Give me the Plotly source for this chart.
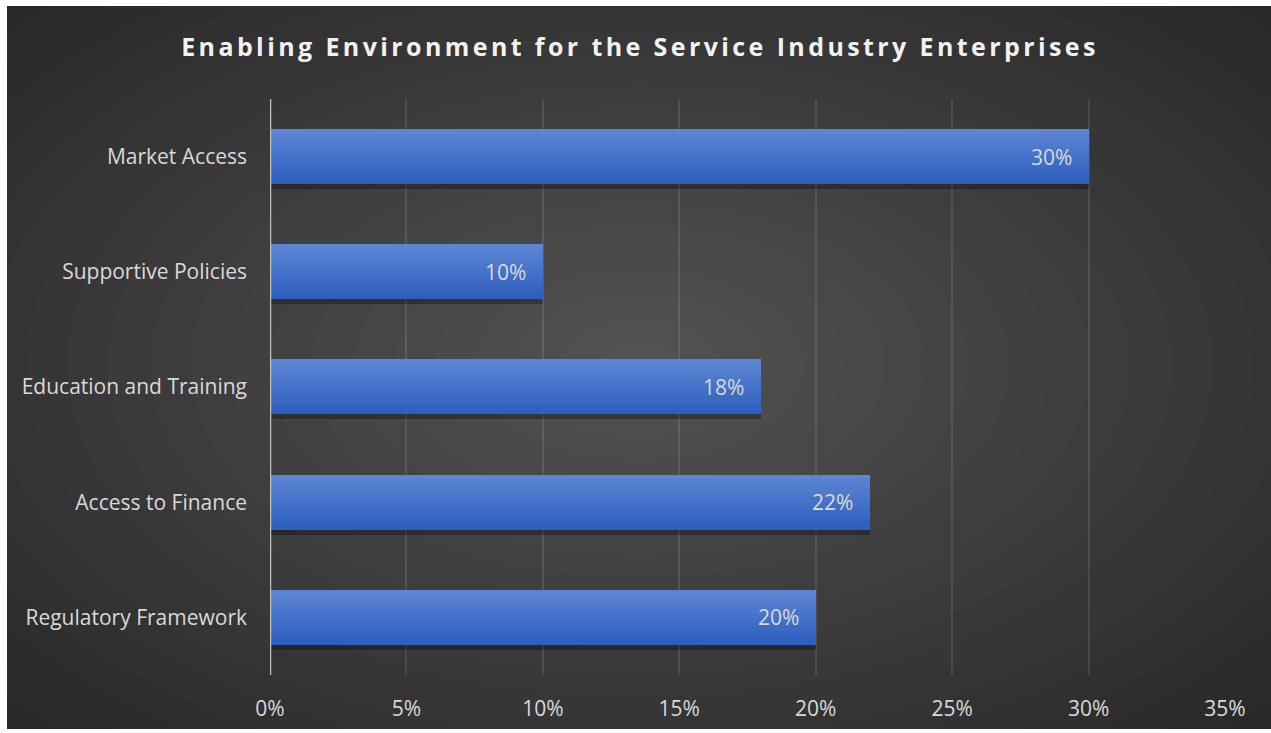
import plotly.graph_objects as go

# ---- data ----
categories = ["Regulatory Framework", "Access to Finance", "Education and Training",
              "Supportive Policies", "Market Access"]
values = [0.20, 0.22, 0.18, 0.10, 0.30]
x_tickvals = [0, 0.05, 0.10, 0.15, 0.20, 0.25, 0.30, 0.35]
x_ticktext = ["0%", "5%", "10%", "15%", "20%", "25%", "30%", "35%"]
title_text = "Enabling Environment for the Service Industry Enterprises"

# ---- geometry (pixels) ----
W, H = 1271, 733
L, R, T, B = 270, 1225, 99, 675
PW, PH = R - L, B - T


def px(xp):
    return (xp - L) / PW


def py(yp):
    return (B - yp) / PH


FONT = "Open Sans"
FS = 21
TXT = "#d9d9d9"

bar_w = 0.477
shadow_shift = 5 / (PH / 5)

fig = go.Figure()

# shadow
fig.add_trace(go.Bar(
    y=categories, x=values, orientation="h",
    width=bar_w, offset=-bar_w / 2 - shadow_shift,
    marker=dict(color="rgba(0,0,0,0.3)", line=dict(width=0)),
    hoverinfo="skip", showlegend=False,
))

# gradient bars built from stacked strips (top light -> bottom dark)
top_rgb = (92, 133, 212)
bot_rgb = (46, 94, 190)
N = 12
strip = bar_w / N
for i in range(N):
    t = i / (N - 1)
    c = tuple(round(top_rgb[k] + (bot_rgb[k] - top_rgb[k]) * t) for k in range(3))
    off = bar_w / 2 - (i + 1) * strip
    fig.add_trace(go.Bar(
        y=categories, x=values, orientation="h",
        width=strip * 1.03, offset=off,
        marker=dict(color="rgb(%d,%d,%d)" % c, line=dict(width=0)),
        hoverinfo="x+y" if i == 0 else "skip", showlegend=False,
    ))

# value labels
annotations = []
for cat, v in zip(categories, values):
    annotations.append(dict(
        x=v, y=cat, xref="x", yref="y", text="%d%%" % round(v * 100),
        showarrow=False, xanchor="right", xshift=-15, yshift=0,
        font=dict(family=FONT, size=FS, color=TXT),
    ))

# background
shapes = [dict(type="rect", xref="paper", yref="paper", layer="below",
               x0=px(7), x1=px(1271), y0=py(729), y1=py(6),
               fillcolor="#262626", line=dict(width=0))]
cx, cy = 640, 365
rx_max, ry_max = 900, 520
NL = 22
for k in range(NL, 0, -1):
    f = k / NL
    shapes.append(dict(
        type="circle", xref="paper", yref="paper", layer="below",
        x0=px(cx - rx_max * f), x1=px(cx + rx_max * f),
        y0=py(cy + ry_max * f), y1=py(cy - ry_max * f),
        fillcolor="rgba(255,255,255,0.0135)", line=dict(width=0),
    ))
for (a, b, c, d) in [(0, 7, 0, H), (0, W, 0, 6), (0, W, 729, H)]:
    shapes.append(dict(type="rect", xref="paper", yref="paper", layer="above",
                       x0=px(a), x1=px(b), y0=py(d), y1=py(c),
                       fillcolor="white", line=dict(width=0)))

fig.update_layout(
    width=W, height=H,
    margin=dict(l=L, r=W - R, t=T, b=H - B, pad=0),
    paper_bgcolor="white", plot_bgcolor="rgba(0,0,0,0)",
    barmode="overlay", bargap=0,
    showlegend=False,
    shapes=shapes,
    annotations=annotations,
    title=dict(text=title_text, x=640 / W, xanchor="center", y=1 - 47 / H, yanchor="middle",
               font=dict(family="Open Sans", size=25, color="#f2f2f2", weight="bold")),
    xaxis=dict(range=[0, 0.35], tickvals=x_tickvals, ticktext=x_ticktext,
               showgrid=True, gridcolor="rgba(255,255,255,0.10)", gridwidth=1.5,
               zeroline=False, showline=False, ticks="",
               ticklabelstandoff=19,
               tickfont=dict(family=FONT, size=FS, color=TXT), fixedrange=True),
    yaxis=dict(categoryorder="array", categoryarray=categories, range=[-0.5, 4.5],
               showgrid=False, zeroline=False, showline=False, ticks="",
               ticklabelstandoff=22,
               tickfont=dict(family=FONT, size=FS, color=TXT), fixedrange=True),
)
fig.add_shape(type="line", xref="x", yref="paper", x0=0, x1=0, y0=0, y1=1,
              line=dict(color="#bfbfbf", width=2.5), layer="above")

post = """
var t = document.querySelectorAll('.gtitle');
t.forEach(function(e){ e.style.letterSpacing = '3.4px'; });
"""
fig.write_html("out.html", post_script=post)
